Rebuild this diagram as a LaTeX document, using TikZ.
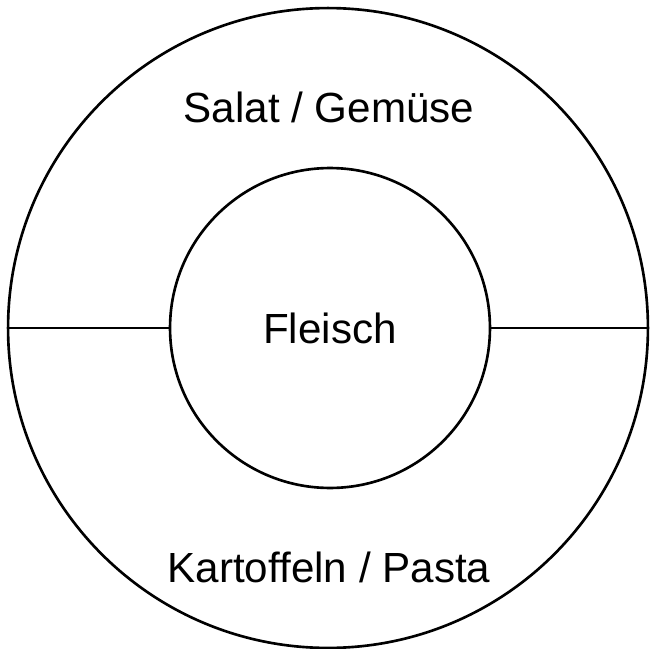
\documentclass[tikz,border=0pt]{standalone}
\usepackage{fontspec}
\setmainfont{Liberation Sans}
\usepackage{tikz}
\tikzset{plate/.style={draw,circle,line width=1.5pt,inner sep=0pt},outer plate/.style={plate,minimum size=12.8cm},inner plate/.style={plate,minimum size=6.4cm,font=\fontsize{24}{28}\selectfont},divider/.style={line width=1.5pt},food label/.style={anchor=base,inner sep=0pt,font=\fontsize{24}{28}\selectfont}}

\begin{document}
\begin{tikzpicture}[x=0.02cm,y=-0.02cm]
 \useasboundingbox (0,0) rectangle (650,649);
 \node[outer plate] (plate) at (328,328) {};
 \node[inner plate] (meat) at (330,328) {Fleisch};
 \draw[divider] (plate.west)--(meat.west);
 \draw[divider] (meat.east)--(plate.east);
 \node[food label] (veg) at (329,122) {Salat / Gemüse};
 \node[food label] (carbs) at (329,582) {Kartoffeln / Pasta};
\end{tikzpicture}
\end{document}
